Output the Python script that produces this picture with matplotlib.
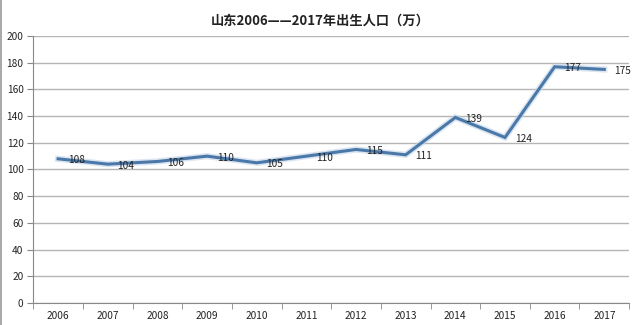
import matplotlib
matplotlib.use("Agg")
import matplotlib.pyplot as plt
from matplotlib.ticker import MultipleLocator, FixedLocator
from matplotlib.lines import Line2D

plt.rcParams['font.family'] = ['Noto Sans CJK SC', 'DejaVu Sans']

years = ["2006", "2007", "2008", "2009", "2010", "2011",
         "2012", "2013", "2014", "2015", "2016", "2017"]
births = [108, 104, 106, 110, 105, 110, 115, 111, 139, 124, 177, 175]
title = "山东2006——2017年出生人口（万）"

fig = plt.figure(figsize=(6.4, 3.25), dpi=100)
ax = fig.add_axes([0.052, 0.068, 0.931, 0.821])

x = list(range(len(years)))
ax.plot(x, births, color="#c3d5e9", lw=4.5, alpha=0.6, solid_joinstyle="miter", zorder=2)
ax.plot(x, births, color="#4a78a8", lw=2.2, solid_joinstyle="miter", zorder=3)

for xi, v in zip(x, births):
    ax.annotate(str(v), (xi, v), xytext=(7, -1), textcoords="offset points",
                ha="left", va="center", fontsize=7.3, color="#222222", zorder=4)

ax.set_xlim(-0.5, len(years) - 0.5)
ax.set_ylim(0, 200)
ax.yaxis.set_major_locator(MultipleLocator(20))
ax.set_xticks(x)
ax.set_xticklabels(years)
ax.xaxis.set_minor_locator(FixedLocator([i - 0.5 for i in range(len(years) + 1)]))
ax.tick_params(axis="x", which="major", length=0, labelsize=7.3, pad=6, colors="#222222")
ax.tick_params(axis="x", which="minor", length=4, color="#888888")
ax.tick_params(axis="y", length=4, labelsize=7.3, color="#888888", labelcolor="#222222", pad=3)
for lbl in ax.get_xticklabels():
    lbl.set_fontweight("medium")

ax.grid(axis="y", color="#b5b5b5", lw=1.0)
ax.set_axisbelow(True)
for side in ("top", "right"):
    ax.spines[side].set_visible(False)
ax.spines["left"].set_color("#888888")
ax.spines["bottom"].set_color("#888888")

fig.text(0.5, 0.935, title, ha="center", va="center", fontsize=9.5,
         fontweight="bold", color="#222222")

# thin frame edge along the left side of the chart
fig.add_artist(Line2D([0.0015, 0.0015], [0, 1], transform=fig.transFigure,
                      color="#9a9a9a", lw=1.2))

fig.savefig("out.png", dpi=100, facecolor="white")
